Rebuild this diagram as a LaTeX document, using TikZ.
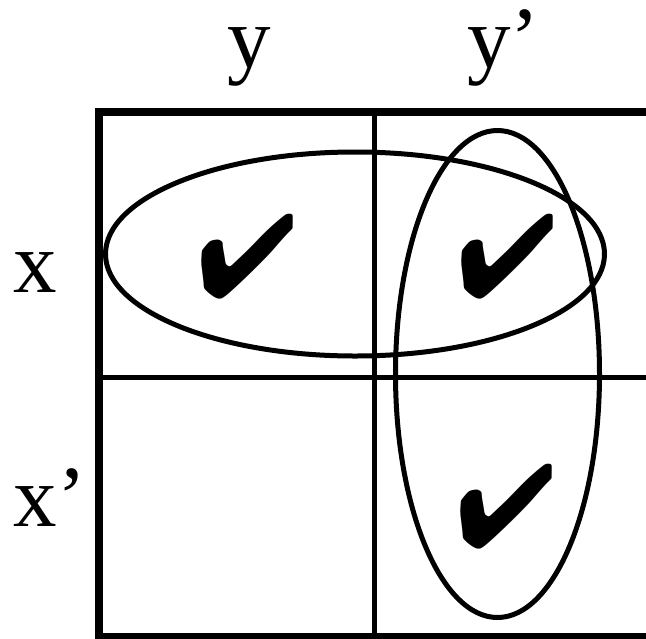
\documentclass[tikz,border=0pt]{standalone}
\usepackage{fontspec}
\setmainfont{Liberation Serif}
\usepackage{pifont}
\usetikzlibrary{positioning}
\tikzset{
  frame/.style={line width=8pt,line cap=rect},
  grid/.style={line width=5pt},
  loop/.style={line width=5pt},
  tick/.style={inner sep=0pt,font=\fontsize{118}{118}\selectfont},
  lbl/.style={inner sep=0pt,anchor=base west,font=\fontsize{87}{90}\selectfont},
}

\begin{document}
\begin{tikzpicture}[x=1pt,y=-1pt]
\useasboundingbox (0,0) rectangle (646,638);
\clip (0,0) rectangle (646,638);
% map frame and cell lines
\coordinate (tl) at (99,111.5);
\coordinate (bl) at (99,637);
\draw[frame] (660,111.5) -- (tl) -- (bl) -- (660,637);
\draw[grid] (374.5,111.5) -- (374.5,637);
\draw[grid] (99,377.5) -- (660,377.5);
% variable labels
\node[lbl] (ly)  at (227,67)  {y};
\node[lbl] (lyn) at (467,67)  {y’};
\node[lbl] (lx)  at (13.5,292) {x};
\node[lbl] (lxn) at (13.5,526) {x’};
% minterms
\node[tick] (m11) at (247,257)   {\ding{52}};
\node[tick] (m12) at (507,257)   {\ding{52}};
\node[tick] (m22) at (506.5,506.5) {\ding{52}};
% groupings
\draw[loop] (355,254) ellipse [x radius=249.5,y radius=102];
\draw[loop] (497.5,374) ellipse [x radius=102,y radius=243.5];
\end{tikzpicture}
\end{document}
